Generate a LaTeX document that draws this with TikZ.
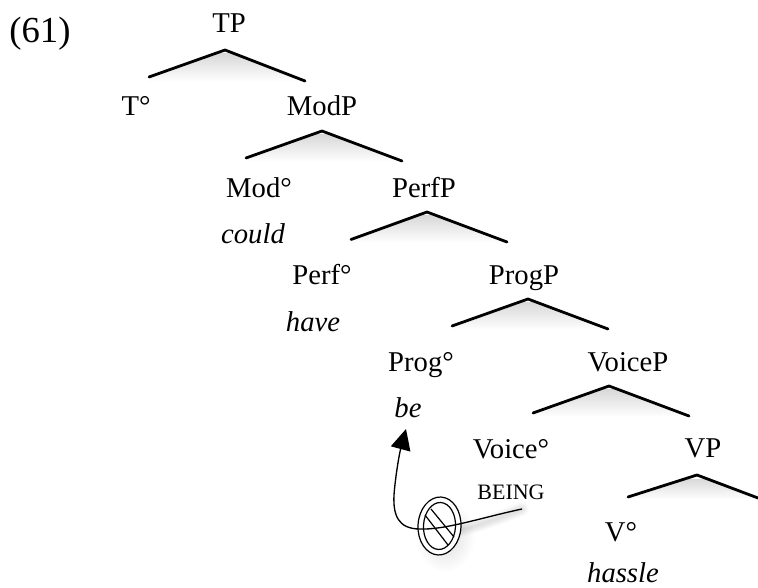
\documentclass[tikz,border=0pt]{standalone}
\usepackage{fontspec}
\setmainfont{Liberation Serif}
\usetikzlibrary{arrows.meta}
\tikzset{
  lab/.style={anchor=base,inner sep=0pt,font=\fontsize{21.5}{25}\selectfont},
  word/.style={lab,font=\fontsize{21.5}{25}\selectfont\itshape},
  small/.style={anchor=base,inner sep=0pt,font=\fontsize{16.5}{20}\selectfont},
  branch/.style={line width=2.1pt,line cap=round,line join=miter},
  move/.style={line width=1pt,-{Triangle[length=15.5pt,width=15pt]}},
  ring/.style={draw,line width=0.9pt},
  haze/.style={draw=black,line cap=round,opacity=.025}
}
\newcommand{\brk}[7]{% name, apex x,y, left x,y, right x,y
  \coordinate (#1a) at (#2,#3);
  \coordinate (#1l) at (#4,#5);
  \coordinate (#1r) at (#6,#7);
  \begin{scope}
    \clip (#1a) -- (#1l) -- (#4,#7+1) -- (#6,#7+1) -- (#1r) -- cycle;
    \shade[top color=black!15,bottom color=white] (#4,#3+4) rectangle (#6,#7+1);
  \end{scope}
  \draw[branch] (#1l) -- (#1a) -- (#1r);
}
\begin{document}
\begin{tikzpicture}[x=0.75pt,y=-0.75pt]
\useasboundingbox (0,0) rectangle (758,588);
\node[anchor=base,inner sep=0pt,font=\fontsize{27.5}{32}\selectfont] (ex) at (40,43) {(61)};
\brk{a}{225}{50}{149}{77}{305}{81}
\brk{b}{322}{131}{246}{158}{402}{161}
\brk{c}{427}{212}{351}{239.5}{507}{242}
\brk{d}{528}{299}{452}{326}{608}{329}
\brk{e}{609}{386}{533}{413}{689}{416}
\brk{f}{697}{475}{628}{497}{758}{498}
\node[lab] (tp) at (229,33) {TP};
\node[lab] (t) at (136,116) {T°};
\node[lab] (modp) at (322,116) {ModP};
\node[lab] (mod) at (259,198) {Mod°};
\node[lab] (perfp) at (424,198) {PerfP};
\node[word] (could) at (253,244) {could};
\node[lab] (perf) at (322,285) {Perf°};
\node[lab] (progp) at (524,285) {ProgP};
\node[word] (have) at (313,332) {have};
\node[lab] (prog) at (421,372) {Prog°};
\node[lab] (voicep) at (628,372) {VoiceP};
\node[word] (be) at (408,417) {be};
\node[lab] (voice) at (511,459) {Voice°};
\node[lab] (vp) at (703,458) {VP};
\node[small] (being) at (511,499) {BEING};
\node[lab] (v) at (621,541) {V°};
\node[word] (hassle) at (623,582) {hassle};
\coordinate (src) at (522,509);
\coordinate (dst) at (406,429);
\coordinate (sign) at (439.5,526);
\shade[inner color=black!14,outer color=white] (445,536) ellipse (30 and 36);
\foreach \w in {2,4,6,8,10}
  \draw[haze,line width=\w pt,shift={(4,6)}] (src) .. controls (480,518) and (445,530) .. (420,529);
\fill[white] (sign) ellipse (21.5 and 29);
\draw[ring,rotate around={-3:(sign)}] (sign) ellipse (21.5 and 29);
\draw[ring,rotate around={-3:(sign)}] (sign) ellipse (16 and 23.5);
\draw[ring] (425,515) -- (448,545);
\draw[ring] (431,509) -- (454,537);
\draw[move] (src) .. controls (480,518) and (445,530) .. (420,529)
   .. controls (398,529) and (393,515) .. (394,495)
   .. controls (395,480) and (399,455) .. (dst);
\end{tikzpicture}
\end{document}
